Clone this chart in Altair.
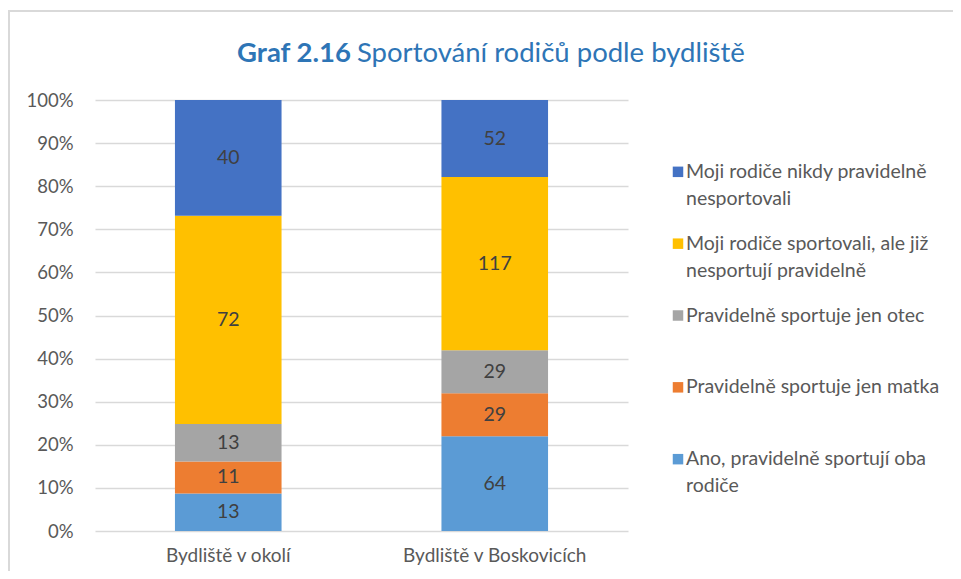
import altair as alt
import pandas as pd

categories = ["Bydliště v okolí", "Bydliště v Boskovicích"]
series = [
    "Ano, pravidelně sportují oba rodiče",
    "Pravidelně sportuje jen matka",
    "Pravidelně sportuje jen otec",
    "Moji rodiče sportovali, ale již nesportují pravidelně",
    "Moji rodiče nikdy pravidelně nesportovali",
]
legend_labels = [
    ["Moji rodiče nikdy pravidelně", "nesportovali"],
    ["Moji rodiče sportovali, ale již", "nesportují pravidelně"],
    ["Pravidelně sportuje jen otec"],
    ["Pravidelně sportuje jen matka"],
    ["Ano, pravidelně sportují oba", "rodiče"],
]
legend_series = [series[4], series[3], series[2], series[1], series[0]]
colors = ["#5B9BD5", "#ED7D31", "#A5A5A5", "#FFC000", "#4472C4"]
values_okoli = [13, 11, 13, 72, 40]
values_boskovice = [64, 29, 29, 117, 52]
y_ticks = [0, 0.1, 0.2, 0.3, 0.4, 0.5, 0.6, 0.7, 0.8, 0.9, 1.0]

rows = []
for cat, vals in zip(categories, [values_okoli, values_boskovice]):
    total = sum(vals)
    cum = 0
    for i, (s, v) in enumerate(zip(series, vals)):
        rows.append({"cat": cat, "series": s, "value": v, "idx": i,
                     "start": cum / total, "end": (cum + v) / total,
                     "mid": (cum + v / 2) / total})
        cum += v
df = pd.DataFrame(rows)

leg_df = pd.DataFrame({
    "series": legend_series,
    "label": legend_labels,
    "pos": list(range(len(legend_series))),
})

FONT = "Lato"
W, H = 533, 431
GRAY = "#595959"

x_enc = alt.X("cat:N", sort=categories,
              scale=alt.Scale(paddingInner=0.6, paddingOuter=0.3),
              axis=alt.Axis(title=None, labelAngle=0, labelFontSize=19, labelColor=GRAY,
                            labelFont=FONT, domain=False, ticks=False, labelPadding=15,
                            labelLimit=400, grid=False))
y_scale = alt.Scale(domain=[0, 1])

bars = alt.Chart(df).mark_bar().encode(
    x=x_enc,
    y=alt.Y("start:Q", scale=y_scale,
            axis=alt.Axis(title=None, format=".0%", values=y_ticks, labelOverlap=False,
                          labelFontSize=18.5, labelColor=GRAY, labelFont=FONT,
                          domain=False, ticks=False, labelPadding=22,
                          grid=True, gridColor="#D9D9D9", gridWidth=1.5)),
    y2="end:Q",
    color=alt.Color("series:N", scale=alt.Scale(domain=series, range=colors), legend=None),
)

labels = alt.Chart(df).mark_text(fontSize=19.5, color="#404040", font=FONT).encode(
    x=alt.X("cat:N", sort=categories),
    y=alt.Y("mid:Q", scale=y_scale),
    text="value:Q",
)

main = alt.layer(bars, labels)

leg_scale = alt.Scale(domain=list(range(5)), padding=1.18)
leg_sym = alt.Chart(leg_df).mark_square(size=110, opacity=1).encode(
    x=alt.value(583),
    y=alt.Y("pos:O", scale=leg_scale, axis=None),
    color=alt.Color("series:N", scale=alt.Scale(domain=series, range=colors), legend=None),
)
leg_txt = alt.Chart(leg_df).mark_text(align="left", baseline="middle", fontSize=19.5,
                                      color=GRAY, font=FONT, lineHeight=27).encode(
    x=alt.value(591),
    y=alt.Y("pos:O", scale=leg_scale, axis=None),
    text="label",
)
legend = alt.layer(leg_sym, leg_txt)

title_df = pd.DataFrame({"a": [0]})
t1 = alt.Chart(title_df).mark_text(text="Graf 2.16", fontWeight="bold", fontSize=27.5,
                                   color="#2E75B6", font=FONT, align="right",
                                   baseline="alphabetic").encode(
    x=alt.value(256), y=alt.value(-38))
t2 = alt.Chart(title_df).mark_text(text="Sportování rodičů podle bydliště", fontSize=27.5,
                                   color="#2E75B6", font=FONT, align="left",
                                   baseline="alphabetic").encode(
    x=alt.value(262), y=alt.value(-38))

frame = alt.Chart(title_df).mark_rect(fill=None, stroke="#D9D9D9", strokeWidth=2).encode(
    x=alt.value(-86), x2=alt.value(900), y=alt.value(-89), y2=alt.value(600))

chart = alt.layer(frame, main, legend, t1, t2).resolve_scale(
    y="independent"
).properties(
    width=W, height=H,
    autosize=alt.AutoSizeParams(type="none"),
    padding={"left": 87, "top": 92, "right": 325, "bottom": 40},
).configure_view(stroke=None)

chart.save("out.html", embed_options={"renderer": "svg", "actions": False})
